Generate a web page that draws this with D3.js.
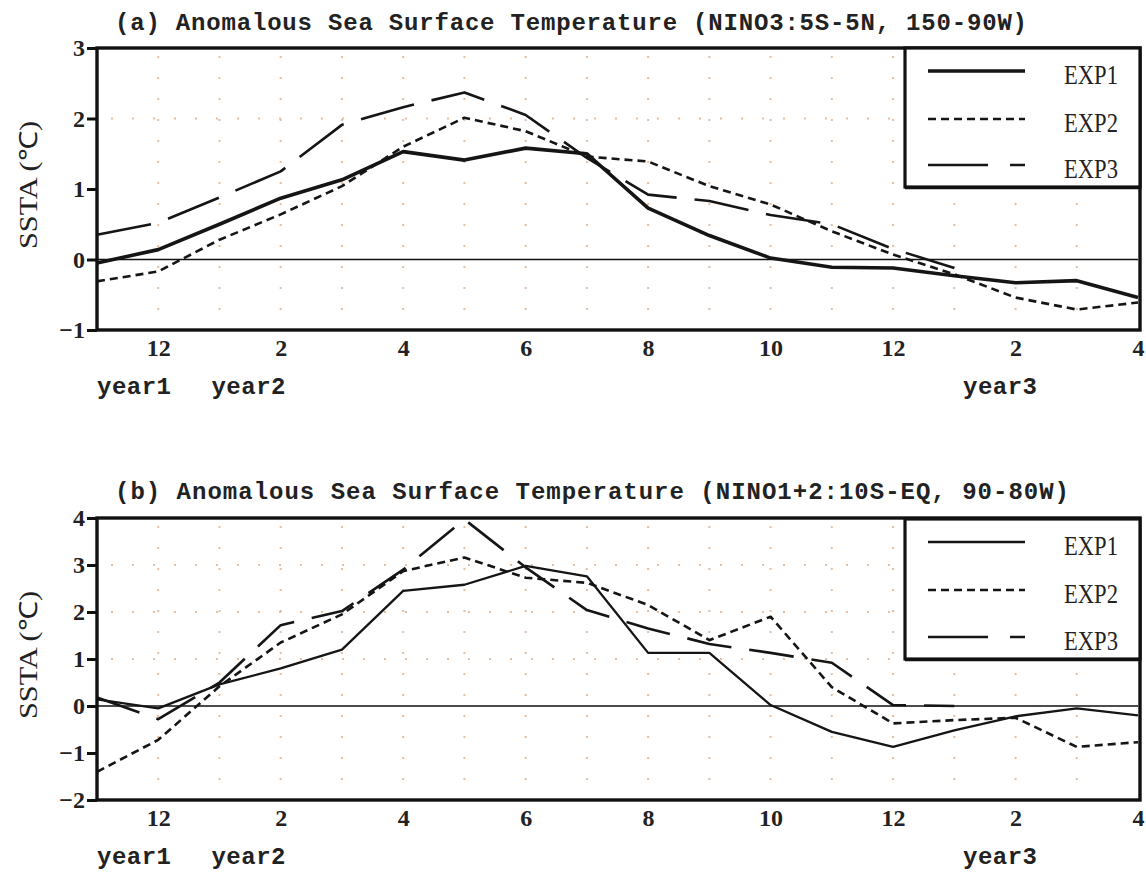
<!DOCTYPE html>
<head>
  <meta charset="utf-8">
  <script src="https://d3js.org/d3.v7.min.js"></script>
  <style>
    body { margin: 0; background: #fff; }
    .mono { font-family: 'Liberation Mono', monospace; font-weight: bold; font-size: 24px; fill: #222; }
    .ylab { font-family: 'Liberation Serif', serif; font-size: 25px; fill: #222; }
    .leg { font-family: 'Liberation Serif', serif; font-size: 27px; fill: #222; }
    .grid { stroke: #dca47c; stroke-width: 2; stroke-dasharray: 2,19; opacity: 0.7; }
  </style>
</head>
<body>
<script>
// months along x: Nov year1 ... Apr year3
var months = ["1-11","1-12","2-01","2-02","2-03","2-04","2-05","2-06","2-07","2-08",
              "2-09","2-10","2-11","2-12","3-01","3-02","3-03","3-04"];
var tickMonths = ["1-12","2-02","2-04","2-06","2-08","2-10","2-12","3-02","3-04"];
var tickLabels = ["12","2","4","6","8","10","12","2","4"];
var seriesNames = ["EXP1","EXP2","EXP3"];

var yTicksA = [-1,0,1,2,3];
var yTicksB = [-2,-1,0,1,2,3,4];
var gridRowsA = [2];
var gridRowsB = [1,2,3];

// (a) NINO3
var ninoA_exp1 = [-0.05,0.14,0.5,0.87,1.13,1.53,1.41,1.58,1.5,0.73,0.34,0.02,-0.11,-0.12,-0.23,-0.33,-0.3,-0.54];
var ninoA_exp2 = [-0.31,-0.17,0.28,0.64,1.04,1.6,2.01,1.82,1.46,1.39,1.04,0.78,0.4,0.07,-0.21,-0.54,-0.71,-0.61];
var ninoA_exp3 = [0.35,0.52,0.88,1.25,1.91,2.16,2.37,2.05,1.44,0.92,0.83,0.63,0.5,0.15,-0.12];

// (b) NINO1+2
var ninoB_exp1 = [0.14,-0.05,0.46,0.8,1.2,2.45,2.58,2.98,2.76,1.13,1.13,0.02,-0.55,-0.87,-0.52,-0.22,-0.05,-0.2];
var ninoB_exp2 = [-1.4,-0.72,0.42,1.35,1.95,2.87,3.16,2.73,2.62,2.15,1.4,1.9,0.4,-0.37,-0.3,-0.25,-0.87,-0.77];
var ninoB_exp3 = [0.18,-0.28,0.5,1.72,2.02,2.9,3.97,2.95,2.04,1.65,1.32,1.13,0.92,0.02,0.0];

var svg = d3.select("body").append("svg")
    .attr("width", 1146)
    .attr("height", 874);

var left = 97, right = 1138;
var x = d3.scalePoint().domain(months).range([left, right]);

var panels = [
  {
    title: "(a) Anomalous Sea Surface Temperature (NINO3:5S-5N, 150-90W)",
    titleLen: 912, titleY: 30,
    top: 48, bottom: 330, yDomain: [-1, 3], yTicks: yTicksA, gridRows: gridRowsA,
    series: [ninoA_exp1, ninoA_exp2, ninoA_exp3],
    widths: [3.6, 2.6, 2.6],
    dashes: [null, "8,5", "55,18"],
    legend: { top: 48, bottom: 187, rows: [71, 119, 165] }
  },
  {
    title: "(b) Anomalous Sea Surface Temperature (NINO1+2:10S-EQ, 90-80W)",
    titleLen: 954, titleY: 499,
    top: 518, bottom: 800, yDomain: [-2, 4], yTicks: yTicksB, gridRows: gridRowsB,
    series: [ninoB_exp1, ninoB_exp2, ninoB_exp3],
    widths: [2.3, 2.6, 2.6],
    dashes: [null, "8,5", "45,18"],
    legend: { top: 519, bottom: 659, rows: [542, 590, 637] }
  }
];

panels.forEach(drawPanel);

function numStyle(sel) {
  sel.attr("fill", "#222")
     .style("font-family", "'Liberation Serif', serif")
     .style("font-weight", "bold")
     .style("font-size", "24px");
}

function drawPanel(p) {
  var y = d3.scaleLinear().domain(p.yDomain).range([p.bottom, p.top]);
  var g = svg.append("g");

  // title
  g.append("text")
      .attr("class", "mono")
      .attr("x", 115)
      .attr("y", p.titleY)
      .attr("textLength", p.titleLen)
      .attr("lengthAdjust", "spacing")
      .text(p.title);

  // dotted grid
  g.selectAll(".vgrid")
      .data(months.slice(1, -1))
    .enter().append("line")
      .attr("class", "grid")
      .attr("x1", function(d) { return x(d); })
      .attr("x2", function(d) { return x(d); })
      .attr("y1", p.top + 8)
      .attr("y2", p.bottom - 4);

  g.selectAll(".hgrid")
      .data(p.gridRows)
    .enter().append("line")
      .attr("class", "grid")
      .attr("x1", left + 14)
      .attr("x2", right)
      .attr("y1", function(d) { return y(d); })
      .attr("y2", function(d) { return y(d); });

  // zero line
  g.append("line")
      .attr("x1", left).attr("x2", right)
      .attr("y1", y(0)).attr("y2", y(0))
      .attr("stroke", "#111")
      .attr("stroke-width", 1.6);

  // series lines
  var line = d3.line()
      .x(function(d, i) { return x(months[i]); })
      .y(function(d) { return y(d); });

  p.series.forEach(function(s, k) {
    g.append("path")
        .datum(s)
        .attr("d", line)
        .attr("fill", "none")
        .attr("stroke", "#151515")
        .attr("stroke-width", p.widths[k])
        .attr("stroke-linejoin", "round")
        .attr("stroke-dasharray", p.dashes[k]);
  });

  // y axis
  var yAxis = g.append("g")
      .attr("transform", "translate(" + left + ",0)")
      .call(d3.axisLeft(y).tickValues(p.yTicks).tickFormat(d3.format("d"))
        .tickSize(10).tickPadding(2));
  yAxis.select(".domain").remove();
  yAxis.selectAll(".tick line").attr("stroke", "#111").attr("stroke-width", 3);
  yAxis.selectAll(".tick text").call(numStyle);

  // x axis labels
  var xAxis = g.append("g")
      .attr("transform", "translate(0," + p.bottom + ")")
      .call(d3.axisBottom(x).tickValues(tickMonths)
        .tickFormat(function(d, i) { return tickLabels[i]; })
        .tickSize(0).tickPadding(13));
  xAxis.select(".domain").remove();
  xAxis.selectAll(".tick text").call(numStyle).attr("dy", "0.55em");

  // year labels
  g.append("text").attr("class", "mono")
      .attr("x", left).attr("y", p.bottom + 64)
      .attr("letter-spacing", 0.5).text("year1");
  g.append("text").attr("class", "mono")
      .attr("x", x("2-01") - 8).attr("y", p.bottom + 64)
      .attr("letter-spacing", 0.5).text("year2");
  g.append("text").attr("class", "mono")
      .attr("x", x("3-02") + 22).attr("y", p.bottom + 64)
      .attr("text-anchor", "end")
      .attr("letter-spacing", 0.5).text("year3");

  // y label
  g.append("text")
      .attr("class", "ylab")
      .attr("transform", "translate(37," + ((p.top + p.bottom) / 2 - 4) + ") rotate(-90)")
      .attr("text-anchor", "middle")
      .attr("textLength", 128)
      .attr("lengthAdjust", "spacingAndGlyphs")
      .text("SSTA (\u2103)");

  // frame
  g.append("rect")
      .attr("x", left).attr("y", p.top)
      .attr("width", right - left + 2).attr("height", p.bottom - p.top)
      .attr("fill", "none")
      .attr("stroke", "#111")
      .attr("stroke-width", 3.4);

  // legend
  var L = p.legend;
  g.append("rect")
      .attr("x", 905).attr("y", L.top)
      .attr("width", right + 2 - 905).attr("height", L.bottom - L.top)
      .attr("fill", "#fff")
      .attr("stroke", "#111")
      .attr("stroke-width", 3.2);
  g.append("line")
      .attr("x1", 905).attr("x2", right + 2)
      .attr("y1", L.bottom + 1).attr("y2", L.bottom + 1)
      .attr("stroke", "#111").attr("stroke-width", 2.5);

  seriesNames.forEach(function(name, k) {
    g.append("line")
        .attr("x1", 928).attr("x2", 1025)
        .attr("y1", L.rows[k]).attr("y2", L.rows[k])
        .attr("stroke", "#151515")
        .attr("stroke-width", p.widths[k])
        .attr("stroke-dasharray", k === 2 ? "60,22" : p.dashes[k]);
    g.append("text")
        .attr("class", "leg")
        .attr("x", 1064).attr("y", L.rows[k] + 13)
        .attr("textLength", 54)
        .attr("lengthAdjust", "spacingAndGlyphs")
        .text(name);
  });
}
</script>
</body>
